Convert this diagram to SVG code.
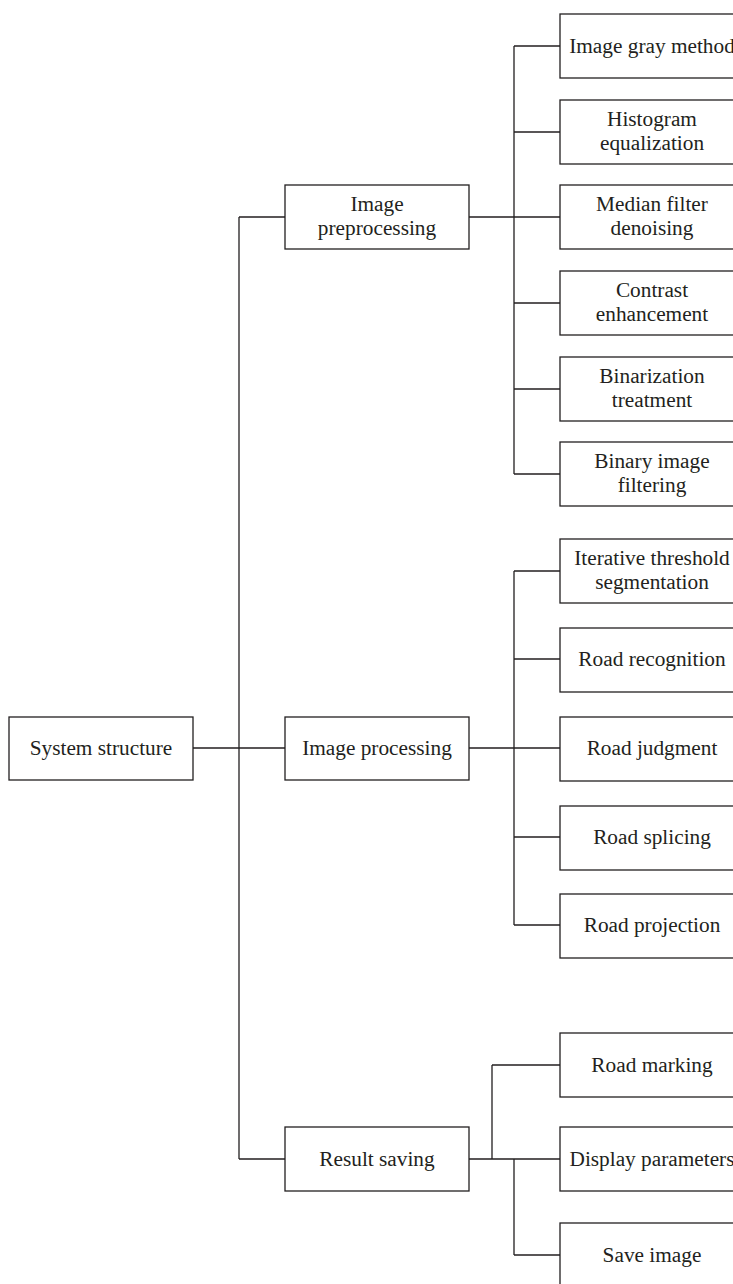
<svg xmlns="http://www.w3.org/2000/svg" width="733" height="1284" viewBox="0 0 733 1284">
<style>
.box{fill:#fff;stroke:#231f20;stroke-width:1.3}
.t{font-family:"Liberation Serif","Times New Roman",serif;font-size:21.3px;fill:#231f20;text-anchor:middle}
.c{fill:none;stroke:#231f20;stroke-width:1.3}
</style>
<rect width="733" height="1284" fill="#fff"/>
<g id="connectors" class="c">
<path d="M193,748H285M239,217V1159M239,217H285M239,1159H285"/>
<path d="M469,217H560M514,46V474M514,46H560M514,132H560M514,303H560M514,389H560M514,474H560"/>
<path d="M469,748H560M514,571V925M514,571H560M514,659H560M514,837H560M514,925H560"/>
<path d="M469,1159H560M492,1065V1159M492,1065H560M514,1159V1255M514,1255H560"/>
</g>
<g id="n-system"><rect class="box" x="9" y="717" width="184" height="63"/><text class="t" x="101" y="755">System structure</text></g>
<g id="n-preproc"><rect class="box" x="285" y="185" width="184" height="64"/><text class="t" x="377" y="211">Image</text><text class="t" x="377" y="235">preprocessing</text></g>
<g id="n-proc"><rect class="box" x="285" y="717" width="184" height="63"/><text class="t" x="377" y="755">Image processing</text></g>
<g id="n-result"><rect class="box" x="285" y="1127" width="184" height="64"/><text class="t" x="377" y="1166">Result saving</text></g>
<g id="n-gray"><rect class="box" x="560" y="14" width="185" height="64"/><text class="t" x="652" y="53">Image gray method</text></g>
<g id="n-hist"><rect class="box" x="560" y="100" width="185" height="64"/><text class="t" x="652" y="126">Histogram</text><text class="t" x="652" y="150">equalization</text></g>
<g id="n-median"><rect class="box" x="560" y="185" width="185" height="64"/><text class="t" x="652" y="211">Median filter</text><text class="t" x="652" y="235">denoising</text></g>
<g id="n-contrast"><rect class="box" x="560" y="271" width="185" height="64"/><text class="t" x="652" y="297">Contrast</text><text class="t" x="652" y="321">enhancement</text></g>
<g id="n-binar"><rect class="box" x="560" y="357" width="185" height="64"/><text class="t" x="652" y="383">Binarization</text><text class="t" x="652" y="407">treatment</text></g>
<g id="n-binfilt"><rect class="box" x="560" y="442" width="185" height="64"/><text class="t" x="652" y="468">Binary image</text><text class="t" x="652" y="492">filtering</text></g>
<g id="n-iter"><rect class="box" x="560" y="539" width="185" height="64"/><text class="t" x="652" y="565">Iterative threshold</text><text class="t" x="652" y="589">segmentation</text></g>
<g id="n-recog"><rect class="box" x="560" y="628" width="185" height="64"/><text class="t" x="652" y="666">Road recognition</text></g>
<g id="n-judg"><rect class="box" x="560" y="717" width="185" height="64"/><text class="t" x="652" y="755">Road judgment</text></g>
<g id="n-splice"><rect class="box" x="560" y="806" width="185" height="64"/><text class="t" x="652" y="844">Road splicing</text></g>
<g id="n-proj"><rect class="box" x="560" y="894" width="185" height="64"/><text class="t" x="652" y="932">Road projection</text></g>
<g id="n-mark"><rect class="box" x="560" y="1033" width="185" height="64"/><text class="t" x="652" y="1072">Road marking</text></g>
<g id="n-disp"><rect class="box" x="560" y="1127" width="185" height="64"/><text class="t" x="652" y="1166">Display parameters</text></g>
<g id="n-save"><rect class="box" x="560" y="1223" width="185" height="64"/><text class="t" x="652" y="1262">Save image</text></g>
</svg>
